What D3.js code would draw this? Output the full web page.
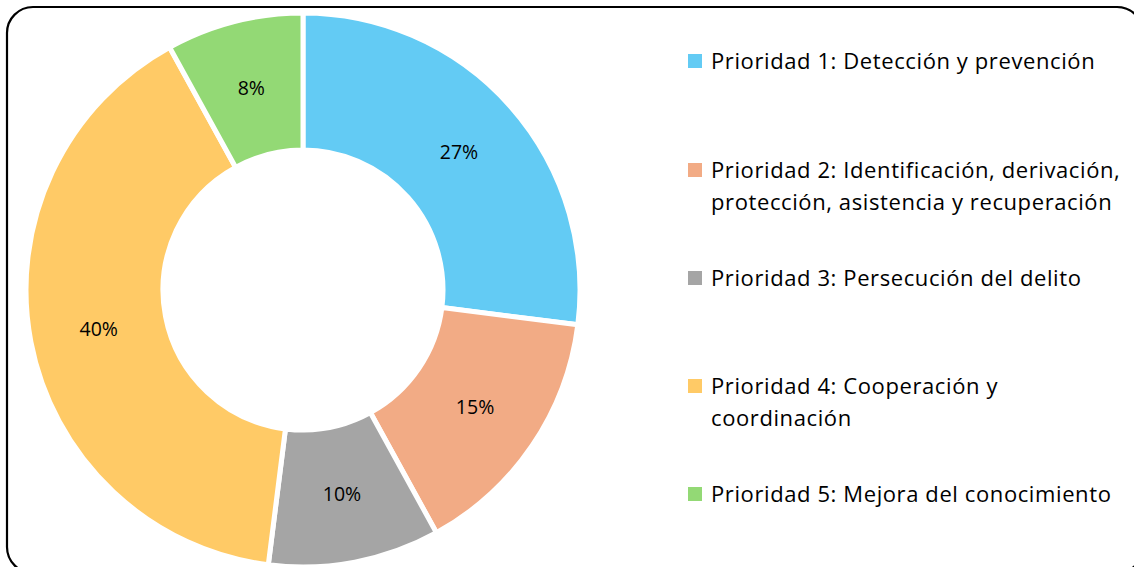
<!DOCTYPE html>
<html lang="es">
<head>
<meta charset="utf-8">
<title>Prioridades</title>
<style>
  body { margin: 0; background: #fff; }
  text { font-family: "Open Sans", "Noto Sans", sans-serif; fill: #000; }
</style>
</head>
<body>
<script src="https://cdn.jsdelivr.net/npm/d3@7"></script>
<script>
var w = 1134, h = 567;

// data
var categories = [
  "Prioridad 1: Detección y prevención",
  "Prioridad 2: Identificación, derivación, protección, asistencia y recuperación",
  "Prioridad 3: Persecución del delito",
  "Prioridad 4: Cooperación y coordinación",
  "Prioridad 5: Mejora del conocimiento"
];
var values = [27, 15, 10, 40, 8];
var legendLines = [
  ["Prioridad 1: Detección y prevención"],
  ["Prioridad 2: Identificación, derivación,", "protección, asistencia y recuperación"],
  ["Prioridad 3: Persecución del delito"],
  ["Prioridad 4: Cooperación y", "coordinación"],
  ["Prioridad 5: Mejora del conocimiento"]
];
var colors = ["#63CBF4", "#F2AB85", "#A5A5A5", "#FFCA66", "#93D975"];

var cx = 303, cy = 290, outerR = 277, innerR = 140;

var svg = d3.select("body").append("svg").attr("width", w).attr("height", h);

// frame
svg.append("rect")
  .attr("x", 7).attr("y", 7)
  .attr("width", 1136).attr("height", 566)
  .attr("rx", 26).attr("ry", 26)
  .attr("fill", "none").attr("stroke", "#000").attr("stroke-width", 2.2);

var pie = d3.pie().sort(null).value(function(d){ return d; });
var arc = d3.arc().innerRadius(innerR).outerRadius(outerR);
var labelArc = d3.arc().innerRadius(208).outerRadius(208);

var g = svg.append("g").attr("transform", "translate(" + cx + "," + cy + ")");
var arcs = pie(values);

g.selectAll("path").data(arcs).enter().append("path")
  .attr("d", arc)
  .attr("fill", function(d, i){ return colors[i]; })
  .attr("stroke", "#fff")
  .attr("stroke-width", 5)
  .attr("stroke-linejoin", "miter");

g.selectAll("text.pct").data(arcs).enter().append("text")
  .attr("class", "pct")
  .attr("transform", function(d){ return "translate(" + labelArc.centroid(d) + ")"; })
  .attr("text-anchor", "middle")
  .attr("dy", "0.35em")
  .attr("font-size", "19.5px")
  .text(function(d){ return d.data + "%"; });

// legend
var legendY = [61, 170, 278, 386, 494];
var lineH = 32;
var lg = svg.append("g");
legendLines.forEach(function(lines, i){
  lg.append("rect")
    .attr("x", 688).attr("y", legendY[i] - 7)
    .attr("width", 14).attr("height", 14)
    .attr("fill", colors[i]);
  lines.forEach(function(t, j){
    lg.append("text")
      .attr("x", 711).attr("y", legendY[i] + j * lineH)
      .attr("dy", "0.36em")
      .attr("font-size", "22px")
      .attr("letter-spacing", "0.6px")
      .text(t);
  });
});
</script>
</body>
</html>
